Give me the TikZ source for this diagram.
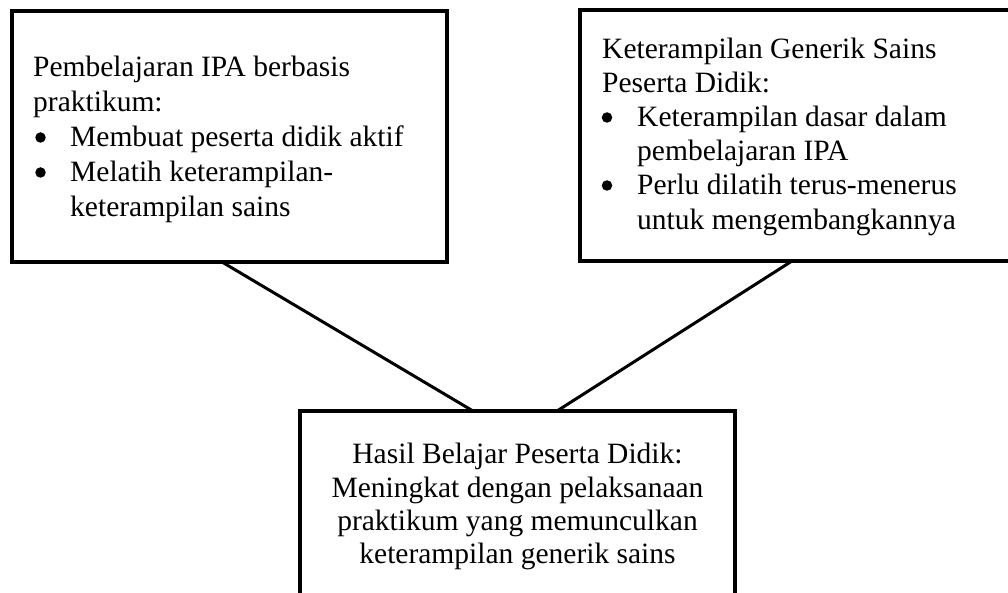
\documentclass[tikz,border=0pt]{standalone}
\usepackage{fontspec}
\setmainfont{Liberation Serif}
\begin{document}
\begin{tikzpicture}[x=1pt,y=-1pt,
  box/.style={draw=black, line width=4.5pt, fill=white, outer sep=0pt, inner sep=0pt},
  link/.style={draw=black, line width=3pt},
  txt/.style={anchor=base west, inner sep=0pt, font=\fontsize{29.5}{34.5}\selectfont},
  ctxt/.style={anchor=base, inner sep=0pt, font=\fontsize{29.5}{34.5}\selectfont},
  bul/.style={circle, fill=black, inner sep=0pt, minimum size=10.5pt}]
\clip (0,0) rectangle (1008,593);
\fill[white] (0,0) rectangle (1008,593);
\node[box, minimum width=435pt, minimum height=251pt] (L) at (229.5,136.5) {};
\node[box, minimum width=440pt, minimum height=251pt] (R) at (800,135.5) {};
\node[box, minimum width=435pt, minimum height=220pt] (B) at (517.5,521) {};
\draw[link] ([xshift=-7.5pt]L.south) -- ([xshift=-44.5pt]B.north);
\draw[link] ([xshift=-8pt]R.south) -- ([xshift=39.5pt]B.north);
% left box text
\node[txt] (l1) at (33,77) {Pembelajaran IPA berbasis};
\node[txt] (l2) at (33,111.5) {praktikum:};
\node[bul] (lb1) at (40.5,137.5) {};
\node[txt] (l3) at (70,147) {Membuat peserta didik aktif};
\node[bul] (lb2) at (40.5,172.5) {};
\node[txt] (l4) at (70,182) {Melatih keterampilan-};
\node[txt] (l5) at (70,216.5) {keterampilan sains};
% right box text
\node[txt] (r1) at (602,59) {Keterampilan Generik Sains};
\node[txt] (r2) at (602,93) {Peserta Didik:};
\node[bul] (rb1) at (607,117.5) {};
\node[txt] (r3) at (637,127) {Keterampilan dasar dalam};
\node[txt] (r4) at (637,161) {pembelajaran IPA};
\node[bul] (rb2) at (607,185.5) {};
\node[txt] (r5) at (637,195) {Perlu dilatih terus-menerus};
\node[txt] (r6) at (637,229.5) {untuk mengembangkannya};
% bottom box text
\node[ctxt] (b1) at (517.5,463) {Hasil Belajar Peserta Didik:};
\node[ctxt] (b2) at (517.5,497) {Meningkat dengan pelaksanaan};
\node[ctxt] (b3) at (517.5,530) {praktikum yang memunculkan};
\node[ctxt] (b4) at (517.5,563.5) {keterampilan generik sains};
\end{tikzpicture}
\end{document}
